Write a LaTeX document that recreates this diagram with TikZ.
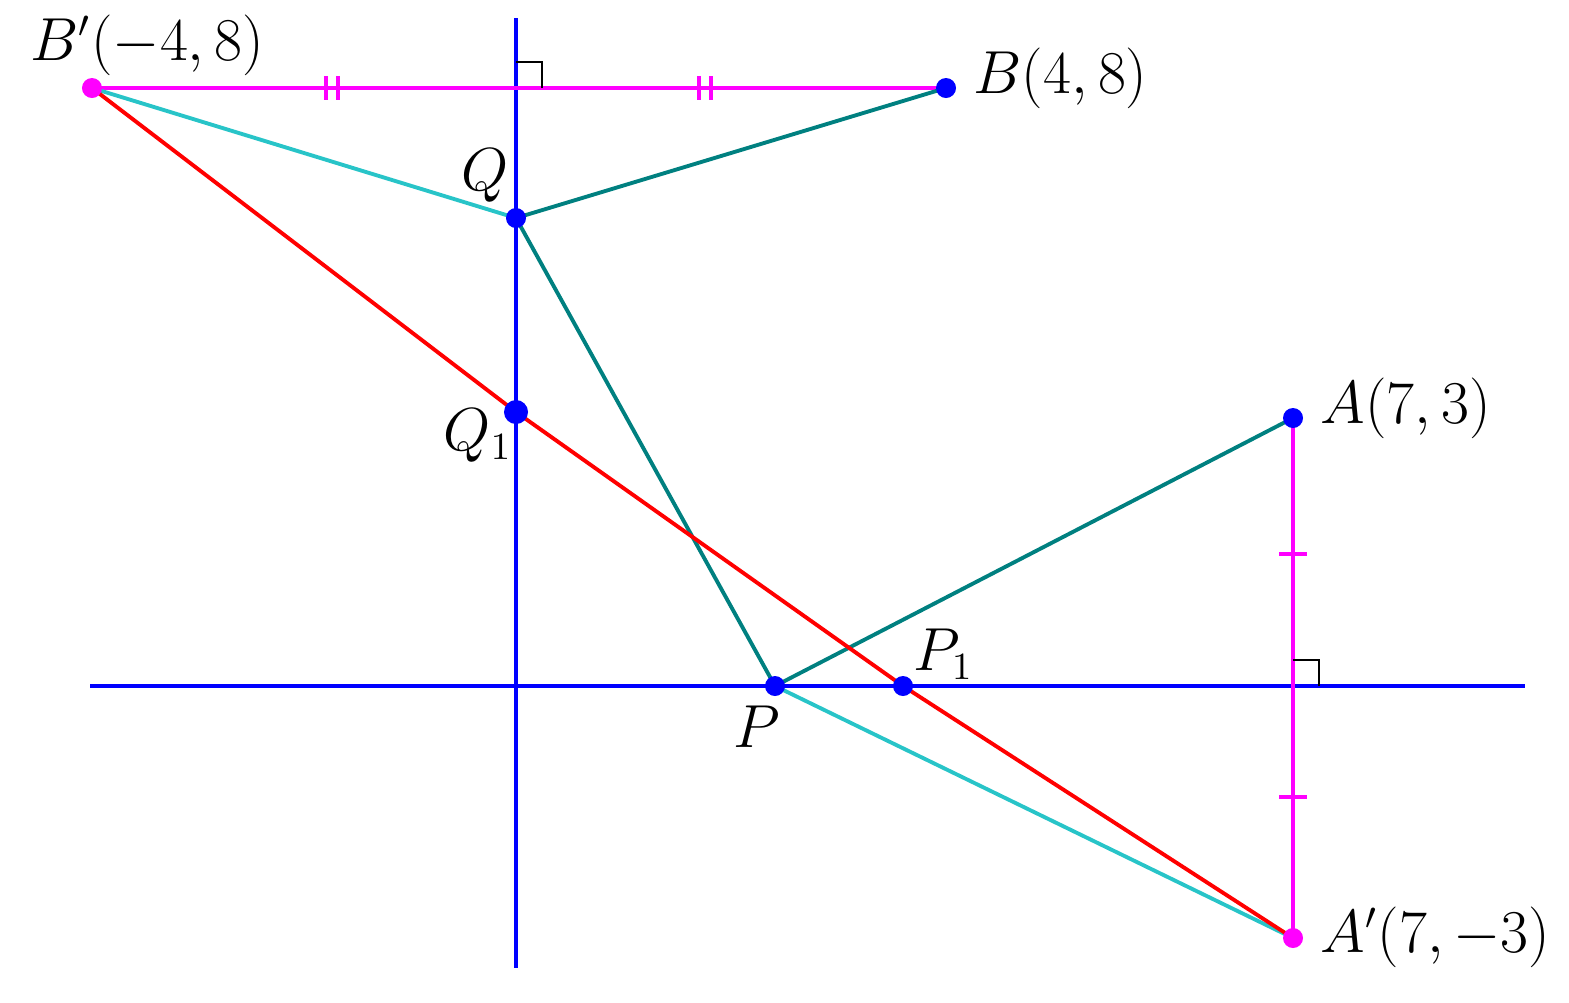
\documentclass[tikz,border=0pt]{standalone}
\definecolor{tealline}{RGB}{0,128,128}
\definecolor{cyanline}{RGB}{40,196,200}
\definecolor{pinkline}{RGB}{255,0,255}
\begin{document}
\begin{tikzpicture}[x=0.01cm,y=-0.01cm,
  font=\fontsize{16.3}{19}\selectfont,
  axis/.style={blue,line width=1.2pt},
  segm/.style={line width=1.1pt},
  dot/.style={circle,fill=blue,inner sep=0pt,minimum size=0.2cm},
  pdot/.style={dot,fill=pinkline},
  lbl/.style={anchor=base west,inner sep=0pt},
  rangle/.style={black,line width=0.5pt}]
\useasboundingbox (0,0) rectangle (1569,1002);
\coordinate (xl) at (90,686);
\coordinate (xr) at (1525,686);
\coordinate (yt) at (516,18);
\coordinate (yb) at (516,968);
\coordinate (Bp) at (92,88);
\coordinate (B) at (946,88);
\coordinate (Q) at (516,218);
\coordinate (Q1) at (516,412);
\coordinate (P) at (775,686);
\coordinate (P1) at (903,686);
\coordinate (A) at (1293,418);
\coordinate (Ap) at (1293,938);
\draw[axis] (xl) -- (xr);
\draw[axis] (yt) -- (yb);
\draw[segm,pinkline] (Bp) -- (B);
\draw[segm,pinkline] (A) -- (Ap);
\foreach \x in {332,705}
  \draw[segm,pinkline] (\x-6,76) -- (\x-6,100) (\x+6,76) -- (\x+6,100);
\foreach \y in {554,797}
  \draw[segm,pinkline] (1279,\y) -- (1307,\y);
\draw[rangle] (516,62) -- (542,62) -- (542,88);
\draw[rangle] (1293,660) -- (1319,660) -- (1319,686);
\draw[segm,cyanline] (Bp) -- (Q);
\draw[segm,cyanline] (P) -- (Ap);
\draw[segm,tealline] (Q) -- (B);
\draw[segm,tealline] (Q) -- (P) -- (A);
\draw[segm,red] (Bp) -- (Q1) -- (P1) -- (Ap);
\node[pdot] (dBp) at (Bp) {};
\node[pdot] (dAp) at (Ap) {};
\node[dot] (dB) at (B) {};
\node[dot] (dQ) at (Q) {};
\node[dot,minimum size=0.24cm] (dQ1) at (Q1) {};
\node[dot] (dP) at (P) {};
\node[dot] (dP1) at (P1) {};
\node[dot] (dA) at (A) {};
\node[lbl] (lBp) at (30,60) {$B'(-4,8)$};
\node[lbl] (lB) at (973,93) {$B(4,8)$};
\node[lbl] (lQ) at (461,190) {$Q$};
\node[lbl] (lQ1) at (443,450) {$Q_1$};
\node[lbl] (lP) at (733,747) {$P$};
\node[lbl] (lP1) at (913,670) {$P_1$};
\node[lbl] (lA) at (1320,423) {$A(7,3)$};
\node[lbl] (lAp) at (1320,952) {$A'(7,-3)$};
\end{tikzpicture}
\end{document}
